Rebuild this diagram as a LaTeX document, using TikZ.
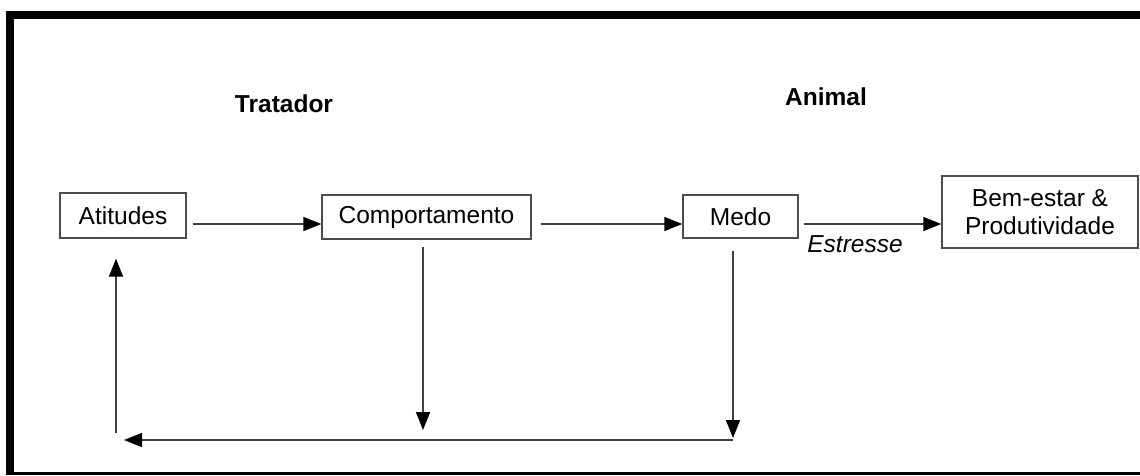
\documentclass[tikz,border=0pt]{standalone}
\usepackage{fontspec}
\setmainfont{Liberation Sans}
\usetikzlibrary{arrows.meta, positioning}

\begin{document}
\begin{tikzpicture}[x=1pt, y=-1pt,
    caixa/.style={draw=black!70, line width=1.3pt, inner sep=0pt, align=center,
      font=\fontsize{24.5}{28}\selectfont},
    seta/.style={draw=black!75, line width=1.5pt, -{Triangle[length=18pt,width=14pt,color=black]}},
    titulo/.style={font=\fontsize{24.5}{28}\selectfont\bfseries}]
  \useasboundingbox (0,0) rectangle (1140,475);
  % frame
  \draw[line width=8pt] (6,15) -- (1140,15);
  \draw[line width=8pt] (10,11) -- (10,475);
  \draw[line width=3pt] (6,473.5) -- (1140,473.5);
  % headers
  \node[titulo] (tratador) at (284,104) {Tratador};
  \node[titulo] (animal) at (826,97) {Animal};
  % boxes
  \node[caixa, minimum width=126pt, minimum height=45pt] (atitudes) at (123,215.5) {Atitudes};
  \node[caixa, minimum width=209pt, minimum height=44pt] (comport) at (426.5,217) {Comportamento};
  \node[caixa, minimum width=115pt, minimum height=43pt] (medo) at (740.5,216.5) {Medo};
  \node[caixa, minimum width=196pt, minimum height=72pt] (bemestar) at (1040,212) {Bem-estar \&\\Produtividade};
  \node[font=\fontsize{24.5}{28}\selectfont\itshape] (estresse) at (855,244) {Estresse};
  % loop ends
  \coordinate (comportfim) at (423,430);
  \coordinate (medofim) at (733,438);
  \coordinate (cantoD) at (733,440);
  \coordinate (cantoE) at (124,440);
  \coordinate (subida) at (116,433);
  % arrows
  \draw[seta] ([shift={(6,8.5)}]atitudes.east) -- ([shift={(0,7)}]comport.west);
  \draw[seta] ([shift={(9,7)}]comport.east) -- ([shift={(0,7.5)}]medo.west);
  \draw[seta] ([shift={(5,7.5)}]medo.east) -- ([shift={(0,12)}]bemestar.west);
  \draw[seta] ([shift={(-3.5,7)}]comport.south) -- (comportfim);
  \draw[seta] ([shift={(-7.5,12)}]medo.south) -- (medofim);
  \draw[seta] (cantoD) -- (cantoE);
  \draw[seta] (subida) -- ([shift={(-7,20)}]atitudes.south);
\end{tikzpicture}
\end{document}
